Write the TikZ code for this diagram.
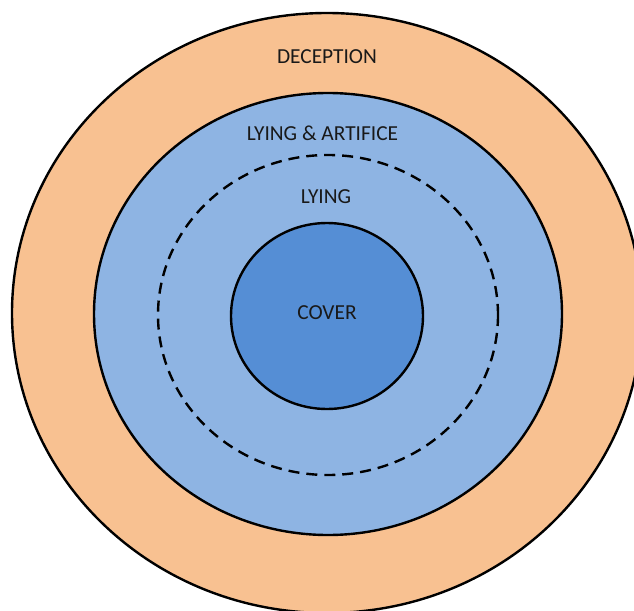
\documentclass[tikz,border=0pt]{standalone}
\usepackage{fontspec}
\setmainfont{Carlito}
\definecolor{decep}{HTML}{F8C191}
\definecolor{lightblue}{HTML}{8EB4E3}
\definecolor{coverblue}{HTML}{558ED5}
\begin{document}
\begin{tikzpicture}[x=1pt,y=-1pt,
  ring/.style={draw=black,line width=2.4pt},
  lbl/.style={font=\fontsize{21.4}{25}\selectfont,text=black!90,inner sep=0pt}]
\useasboundingbox (0,0) rectangle (634,610);
\clip (0,0) rectangle (634,610);
\fill[white] (0,0) rectangle (634,610);
\draw[ring,fill=decep] (327,313) ellipse [x radius=315, y radius=300];
\draw[ring,fill=lightblue] (328,314) ellipse [x radius=234, y radius=221];
\draw[black,line width=2.4pt,dash pattern=on 11pt off 7pt] (328,315) ellipse [x radius=170, y radius=160];
\draw[ring,fill=coverblue] (327,316) ellipse [x radius=96, y radius=93];
\node[lbl] (deception) at (327,57) {DECEPTION};
\node[lbl] (artifice) at (322.5,133) {LYING \& ARTIFICE};
\node[lbl] (lying) at (326,197) {LYING};
\node[lbl] (cover) at (327,313) {COVER};
\end{tikzpicture}
\end{document}
